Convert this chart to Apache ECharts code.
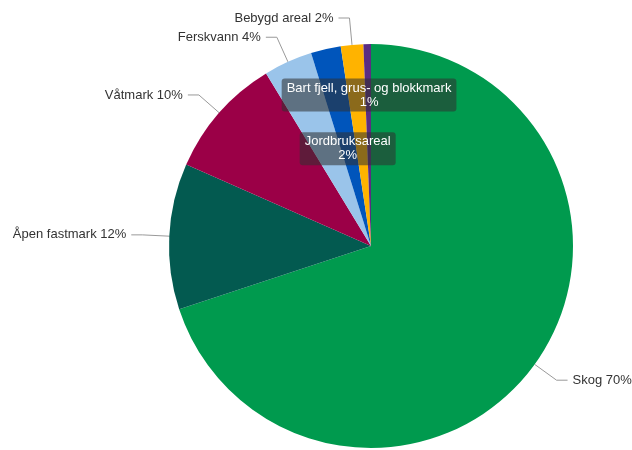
<!DOCTYPE html>
<html>
<head>
<meta charset="utf-8">
<script src="https://cdn.jsdelivr.net/npm/echarts@6/dist/echarts.min.js"></script>
<style>html,body{margin:0;padding:0;background:#fff;}#c{width:632px;height:450px;}</style>
</head>
<body>
<div id="c"></div>
<script>
var categories = ["Skog", "Åpen fastmark", "Våtmark", "Ferskvann", "Jordbruksareal", "Bebygd areal", "Bart fjell, grus- og blokkmark"];
var values = [70.0, 11.7, 9.7, 3.9, 2.4, 1.8, 0.6];
var colors = ["#009a4e", "#035a50", "#9b0047", "#9ac4ea", "#0055bb", "#ffb300", "#5a2d82"];
var boxedLabels = ["Jordbruksareal", "Bart fjell, grus- og blokkmark"];

var chart = echarts.init(document.getElementById('c'), null, {renderer: 'canvas'});
var data = categories.map(function (name, i) {
  var item = { name: name, value: values[i], itemStyle: { color: colors[i] } };
  if (boxedLabels.indexOf(name) >= 0) {
    item.label = {
      position: 'inside',
      formatter: function (p) { return p.name + '\n' + Math.round(p.percent) + '%'; },
      color: '#fff',
      fontSize: 13,
      lineHeight: 14,
      align: 'center',
      backgroundColor: 'rgba(48,48,48,0.56)',
      borderRadius: 3,
      padding: [3, 5, 2, 5],
      offset: name === "Jordbruksareal" ? [0, 4] : [0, -47]
    };
    item.labelLine = { show: false };
  }
  return item;
});

chart.setOption({
  animation: false,
  series: [{
    type: 'pie',
    center: [371, 246],
    radius: 202,
    startAngle: 90,
    clockwise: true,
    avoidLabelOverlap: true,
    itemStyle: { borderWidth: 0 },
    label: {
      show: true,
      overflow: 'none',
      formatter: function (p) { return p.name + ' ' + Math.round(p.percent) + '%'; },
      color: '#333',
      fontSize: 13,
      fontFamily: 'Liberation Sans, Arial, sans-serif'
    },
    labelLine: { show: true, length: 27, length2: 11, lineStyle: { color: '#999', width: 1 } },
    data: data
  }]
});
</script>
</body>
</html>
